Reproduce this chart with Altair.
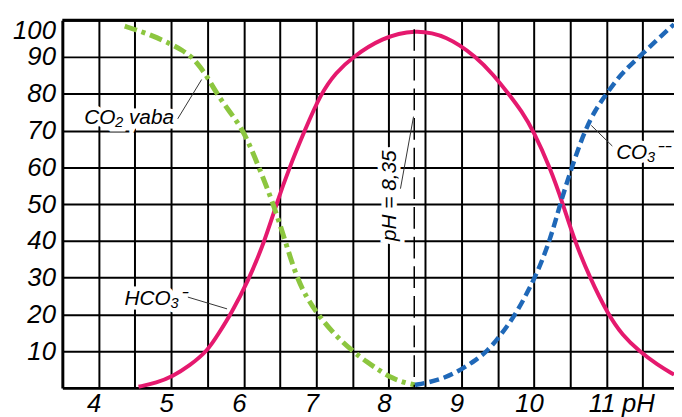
import altair as alt
import pandas as pd

# --- CO2 (vaba) curve: green dash-dot
co2_ph = [4.36, 4.5, 4.75, 5.0, 5.15, 5.29, 5.4, 5.5, 5.63, 5.81, 6.0, 6.21, 6.41, 6.57,
          6.73, 6.87, 7.02, 7.25, 7.5, 7.7, 7.88, 8.04, 8.2, 8.36]
co2_val = [98.4, 97.5, 95.8, 93.5, 91.9, 90.0, 87.3, 84.5, 80.0, 75.0, 70.0, 60.0, 50.0, 40.0,
           30.0, 24.5, 20.0, 14.5, 10.0, 7.0, 4.6, 2.7, 1.5, 0.8]

# --- HCO3- curve: pink solid
hco3_ph = [4.55, 4.8, 5.02, 5.25, 5.5, 5.66, 5.82, 6.06, 6.29, 6.45, 6.63, 6.84, 7.06, 7.27,
           7.5, 7.9, 8.36, 8.8, 9.21, 9.44, 9.65, 9.83, 9.99, 10.22, 10.4, 10.56, 10.77,
           11.02, 11.22, 11.45, 11.7, 11.93]
hco3_val = [0.3, 1.4, 3.1, 6.0, 10.0, 15.0, 20.0, 29.0, 40.0, 50.0, 60.0, 70.0, 80.0, 85.8,
            90.0, 95.2, 97.6, 95.8, 90.0, 85.2, 80.0, 75.3, 70.0, 60.0, 50.0, 40.0, 30.0,
            20.0, 14.3, 10.0, 6.3, 3.6]

# --- CO3-- curve: blue dashed
co3_ph = [8.36, 8.55, 8.77, 9.0, 9.2, 9.36, 9.55, 9.75, 10.02, 10.22, 10.36, 10.52, 10.7,
          10.85, 11.0, 11.2, 11.45, 11.7, 11.93]
co3_val = [0.8, 1.5, 2.7, 5.0, 7.6, 10.0, 14.6, 20.0, 30.0, 40.0, 50.0, 60.0, 70.0,
           75.8, 80.0, 85.5, 90.0, 94.8, 98.9]

# axis ticks
x_ticks = [4.0, 4.5, 5.0, 5.5, 6.0, 6.5, 7.0, 7.5, 8.0, 8.5, 9.0, 9.5, 10.0, 10.5, 11.0, 11.5]
y_ticks = [10, 20, 30, 40, 50, 60, 70, 80, 90, 100]

# annotations
label_text = ["CO₂ vaba", "HCO₃⁻", "CO₃⁻⁻"]
label_ph = [4.42, 4.78, 11.5]
label_val = [73.3, 24.2, 63.9]

leader_ph = [5.09, 5.23, 11.08, 8.16]
leader_ph2 = [5.42, 5.77, 10.79, 8.34]
leader_val = [73.2, 24.7, 65.8, 54.2]
leader_val2 = [83.9, 21.5, 71.4, 73.8]

eq_text = ["pH = 8,35"]
eq_ph = [8.02]
eq_val = [52.3]

marker_ph = [8.35]
marker_top = [97.6]
marker_bottom = [0]

x_scale = alt.Scale(domain=[3.5, 11.93], nice=False, zero=False)
y_scale = alt.Scale(domain=[0, 100], nice=False, zero=True)

x_axis = alt.Axis(
    values=x_ticks,
    labelExpr="datum.value == 11.5 ? 'pH' : (datum.value % 1 == 0 ? format(datum.value, 'd') : '')",
    title=None, grid=True, ticks=False, labelOffset=-5, labelPadding=3,
    labelFlush=False, labelOverlap=False,
)
y_axis = alt.Axis(
    values=y_ticks, title=None, grid=True, ticks=False, labelPadding=7,
    labelFlush=True, labelFlushOffset=2.5, labelOverlap=False,
)

def X(field="ph"):
    return alt.X(f"{field}:Q", scale=x_scale, axis=x_axis)

def Y(field="value"):
    return alt.Y(f"{field}:Q", scale=y_scale, axis=y_axis)

df_co2 = pd.DataFrame({"ph": co2_ph, "value": co2_val})
df_hco3 = pd.DataFrame({"ph": hco3_ph, "value": hco3_val})
df_co3 = pd.DataFrame({"ph": co3_ph, "value": co3_val})
df_lab = pd.DataFrame({"ph": label_ph, "value": label_val, "label": label_text})
df_lead = pd.DataFrame({"ph": leader_ph, "ph2": leader_ph2, "value": leader_val, "value2": leader_val2})
df_eq = pd.DataFrame({"ph": eq_ph, "value": eq_val, "label": eq_text})
df_mark = pd.DataFrame({"ph": marker_ph, "value": marker_top, "value2": marker_bottom})

top_edge = alt.Chart(df_mark).mark_rule(color="black", strokeWidth=3).encode(
    y=alt.Y(datum=max(y_ticks), scale=y_scale, axis=y_axis))

pink = alt.Chart(df_hco3).mark_line(color="#e5196e", strokeWidth=4, interpolate="basis").encode(
    x=X(), y=Y())
green = alt.Chart(df_co2).mark_line(color="#8cc63f", strokeWidth=5, strokeDash=[13, 5, 4, 5],
                                    interpolate="basis").encode(x=X(), y=Y())
blue = alt.Chart(df_co3).mark_line(color="#1f68b8", strokeWidth=4.5, strokeDash=[10, 5],
                                   interpolate="basis").encode(x=X(), y=Y())

marker = alt.Chart(df_mark).mark_rule(color="black", strokeWidth=1.5, strokeDash=[22, 8]).encode(
    x=X(), y=Y(), y2="value2:Q")

halo = alt.Chart(df_lab).mark_text(
    font="Liberation Sans", fontStyle="italic", fontSize=21, color="white",
    stroke="white", strokeWidth=9, baseline="middle", align="center").encode(
    x=X(), y=Y(), text="label:N")
text = alt.Chart(df_lab).mark_text(
    font="Liberation Sans", fontStyle="italic", fontSize=21, color="black",
    baseline="middle", align="center").encode(x=X(), y=Y(), text="label:N")

eq_halo = alt.Chart(df_eq).mark_text(
    font="Liberation Sans", fontStyle="italic", fontSize=21, color="white", angle=270,
    stroke="white", strokeWidth=9, baseline="middle", align="center").encode(
    x=X(), y=Y(), text="label:N")
eq_text_l = alt.Chart(df_eq).mark_text(
    font="Liberation Sans", fontStyle="italic", fontSize=21, color="black", angle=270,
    baseline="middle", align="center").encode(x=X(), y=Y(), text="label:N")

leaders = alt.Chart(df_lead).mark_rule(color="#333333", strokeWidth=1).encode(
    x=X(), x2="ph2:Q", y=Y(), y2="value2:Q")

chart = alt.layer(
    top_edge, pink, green, blue, marker, halo, eq_halo, leaders, text, eq_text_l
).properties(
    width=619, height=372, autosize="none",
    padding={"left": 55, "top": 10, "right": 0, "bottom": 27},
    background="white",
).configure_view(stroke=None).configure_axis(
    domainColor="black", domainWidth=3, gridColor="black", gridWidth=2, gridOpacity=1,
    labelFont="Liberation Sans", labelFontStyle="italic", labelFontSize=26,
    labelColor="black", ticks=False,
)

chart.save("out.html", embed_options={"renderer": "svg", "actions": False})
